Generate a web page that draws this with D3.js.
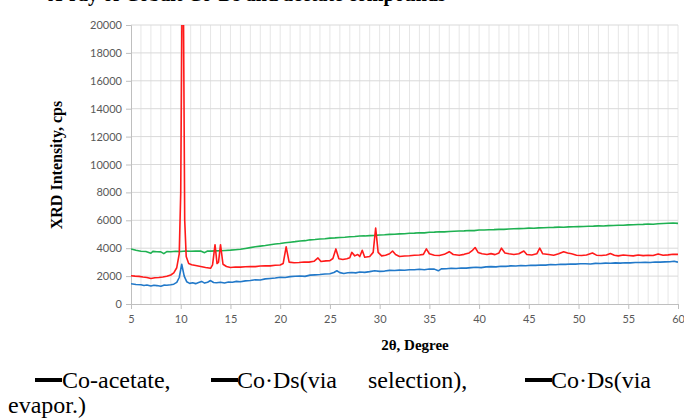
<!DOCTYPE html>
<meta charset="utf-8">
<style>
  body { margin: 0; background: #fff; }
  .tick text { font: 11px Lato, sans-serif; fill: #595959; }
  .title { font: bold 20px "Liberation Serif", serif; }
  .axis-title { font: bold 15px "Liberation Serif", serif; }
  .legend text { font: 24px "Liberation Serif", serif; }
</style>
<svg width="684" height="419"></svg>
<script src="https://d3js.org/d3.v7.min.js"></script>
<script>

  var names = ["Co-acetate,", "Co\u00b7Ds(via selection),", "Co\u00b7Ds(via evapor.)"];
  var colors = ["#2279c9", "#ff1a1a", "#1fb152"];
  var xTicks = [5, 10, 15, 20, 25, 30, 35, 40, 45, 50, 55, 60];
  var yTicks = [0, 2000, 4000, 6000, 8000, 10000, 12000, 14000, 16000, 18000, 20000];

  // Co-acetate (blue)
  var acetate = [
    [5,1450],[5.5,1400],[6,1380],[6.3,1330],[6.6,1360],[7,1290],[7.3,1340],[7.6,1320],[8,1270],[8.3,1350],
    [8.6,1340],[9,1380],[9.3,1420],[9.6,1550],[9.85,1900],[10.1,2850],[10.35,2000],[10.6,1600],[10.9,1480],
    [11.2,1520],[11.5,1460],[11.8,1540],[12.1,1620],[12.4,1500],[12.7,1560],[13,1680],[13.3,1540],[13.6,1520],
    [14,1560],[14.4,1510],[14.8,1580],[15.2,1560],[15.6,1620],[16,1600],[16.5,1660],[17,1680],[17.5,1740],
    [18,1720],[18.5,1800],[19,1830],[19.5,1860],[20,1920],[20.5,1900],[21,1960],[21.5,1990],[22,2010],
    [22.5,1980],[23,2070],[23.5,2090],[24,2110],[24.5,2150],[25,2170],[25.4,2260],[25.7,2380],[26,2250],
    [26.4,2190],[26.8,2240],[27.2,2260],[27.6,2230],[28,2290],[28.5,2270],[29,2320],[29.5,2380],[30,2340],
    [30.5,2360],[31,2410],[31.5,2400],[32,2430],[32.5,2420],[33,2460],[33.5,2450],[34,2490],[34.5,2460],
    [35,2510],[35.5,2500],[35.9,2380],[36.2,2520],[36.7,2530],[37.2,2560],[37.7,2540],[38.2,2580],[38.7,2570],
    [39.2,2610],[39.7,2630],[40.2,2610],[40.7,2660],[41.2,2680],[41.7,2660],[42.2,2710],[42.7,2700],
    [43.2,2730],[43.7,2720],[44.2,2760],[44.7,2740],[45.2,2780],[45.7,2770],[46.2,2800],[46.7,2790],
    [47.2,2830],[47.7,2810],[48.2,2850],[48.7,2840],[49.2,2870],[49.7,2860],[50.2,2880],[50.7,2890],
    [51.2,2870],[51.7,2910],[52.2,2900],[52.7,2930],[53.2,2920],[53.7,2950],[54.2,2930],[54.7,2960],
    [55.2,2950],[55.7,2980],[56.2,2970],[56.7,2990],[57.2,2980],[57.7,3010],[58.2,3000],[58.7,3020],
    [59.2,3030],[59.6,3070],[60,3000]
  ];

  // Co·Ds via selection (red)
  var selection = [
    [5,2030],[5.4,2000],[5.8,1980],[6.2,1930],[6.6,1900],[7,1830],[7.4,1880],[7.8,1900],[8.2,1940],
    [8.6,1990],[9,2080],[9.3,2230],[9.6,2600],[9.85,3600],[10,8000],[10.12,20500],[10.28,20500],[10.4,6000],
    [10.55,3400],[10.8,2900],[11.1,2820],[11.5,2760],[12,2690],[12.5,2620],[13,2560],[13.2,2800],
    [13.45,4250],[13.65,2900],[13.8,3000],[14,4250],[14.25,2850],[14.6,2690],[15,2620],[15.5,2650],
    [16,2640],[16.5,2670],[17,2690],[17.5,2680],[18,2720],[18.5,2740],[19,2730],[19.5,2780],[20,2800],
    [20.3,2900],[20.6,4100],[20.9,3000],[21.4,2960],[21.9,2980],[22.4,3010],[22.9,3000],[23.4,3060],
    [23.8,3300],[24.1,3050],[24.6,3090],[25,3110],[25.3,3260],[25.6,3950],[25.9,3250],[26.3,3190],
    [26.7,3250],[27,3320],[27.2,3700],[27.5,3450],[27.8,3550],[28,3400],[28.25,3850],[28.5,3350],[29,3400],
    [29.35,3700],[29.6,5450],[29.85,3700],[30.2,3450],[30.6,3500],[31,3600],[31.3,3800],[31.6,3550],
    [32,3410],[32.5,3440],[33,3460],[33.5,3490],[34,3510],[34.4,3560],[34.7,3950],[35,3600],[35.5,3500],
    [36,3480],[36.5,3560],[37,3750],[37.4,3550],[38,3500],[38.5,3560],[39,3660],[39.3,3820],[39.6,4050],
    [39.9,3700],[40.3,3600],[40.8,3550],[41.2,3610],[41.6,3540],[42,3660],[42.25,4000],[42.6,3650],
    [43,3600],[43.5,3550],[44,3600],[44.5,3800],[44.8,3550],[45.3,3510],[45.8,3600],[46.1,4000],[46.4,3600],
    [47,3550],[47.5,3500],[48,3600],[48.5,3750],[48.9,3650],[49.3,3600],[49.8,3500],[50.3,3480],[50.8,3510],
    [51.4,3660],[51.8,3500],[52.3,3480],[52.8,3510],[53.2,3620],[53.6,3500],[54,3450],[54.5,3510],
    [55,3480],[55.5,3450],[56,3510],[56.5,3470],[57,3500],[57.5,3480],[58,3590],[58.5,3500],[59,3520],
    [59.5,3570],[60,3560]
  ];

  // Co·Ds via evaporation (green)
  var evapor = [
    [5,3950],[5.5,3850],[6,3780],[6.5,3760],[7,3640],[7.2,3770],[7.6,3750],[8,3740],[8.3,3610],[8.6,3760],
    [9,3750],[9.5,3780],[10,3760],[10.5,3800],[11,3780],[11.5,3790],[12,3800],[12.4,3680],[12.7,3800],
    [13,3790],[13.5,3810],[14,3820],[14.5,3840],[15,3860],[15.5,3890],[16,3920],[16.5,3980],[17,4040],
    [17.5,4100],[18,4150],[18.5,4190],[19,4250],[19.5,4300],[20,4340],[20.5,4390],[21,4430],[21.5,4470],
    [22,4520],[22.5,4540],[23,4600],[23.5,4620],[24,4660],[24.5,4680],[25,4720],[25.5,4740],[26,4770],
    [26.5,4790],[27,4820],[27.5,4840],[28,4870],[28.5,4880],[29,4900],[29.5,4920],[30,4950],[30.5,4960],
    [31,4990],[31.5,5000],[32,5030],[32.5,5040],[33,5070],[33.5,5080],[34,5110],[34.5,5100],[35,5140],
    [35.5,5150],[36,5180],[36.5,5170],[37,5200],[37.5,5220],[38,5230],[38.5,5240],[39,5270],[39.5,5260],
    [40,5300],[40.5,5310],[41,5320],[41.5,5330],[42,5350],[42.5,5350],[43,5380],[43.5,5390],[44,5400],
    [44.5,5410],[45,5440],[45.5,5430],[46,5460],[46.5,5470],[47,5480],[47.5,5490],[48,5510],[48.5,5500],
    [49,5530],[49.5,5540],[50,5550],[50.5,5560],[51,5570],[51.5,5580],[52,5600],[52.5,5590],[53,5620],
    [53.5,5630],[54,5650],[54.5,5640],[55,5670],[55.5,5680],[56,5700],[56.5,5710],[57,5730],[57.5,5720],
    [58,5750],[58.5,5770],[59,5790],[59.5,5810],[60,5780]
  ];

  var series = [acetate, selection, evapor];
  var drawOrder = [2, 1, 0];

  var svg = d3.select("svg");
  var x = d3.scaleLinear().domain([5, 60]).range([131, 678]);
  var y = d3.scaleLinear().domain([0, 20000]).range([304, 25]);

  // title, cut off at the top edge like the source
  svg.append("text").attr("class", "title")
    .attr("x", 48).attr("y", 1)
    .text("X-ray of Cobalt Co\u00b7Ds and acetate compounds");

  // grid
  svg.append("g").selectAll("line")
    .data(d3.range(6, 61))
    .enter().append("line")
      .attr("x1", d => x(d)).attr("x2", d => x(d))
      .attr("y1", y(20000)).attr("y2", y(0))
      .attr("stroke", "#e6e6e6").attr("stroke-width", 1);
  svg.append("g").selectAll("line")
    .data(yTicks.slice(1))
    .enter().append("line")
      .attr("x1", x(5)).attr("x2", x(60))
      .attr("y1", d => y(d)).attr("y2", d => y(d))
      .attr("stroke", "#d9d9d9").attr("stroke-width", 1);

  // axes
  var xAxis = svg.append("g")
    .attr("transform", "translate(0," + y(0) + ")")
    .call(d3.axisBottom(x).tickValues(xTicks).tickSize(5).tickPadding(6));
  var yAxis = svg.append("g")
    .attr("transform", "translate(" + x(5) + ",0)")
    .call(d3.axisLeft(y).tickValues(yTicks).tickFormat(d3.format("d")).tickSize(5).tickPadding(4));
  [xAxis, yAxis].forEach(function(a) {
    a.select(".domain").attr("stroke", "#bfbfbf");
    a.selectAll(".tick line").attr("stroke", "#bfbfbf");
  });

  svg.append("clipPath").attr("id", "plot")
    .append("rect").attr("x", x(5)).attr("y", y(20000))
    .attr("width", x(60) - x(5)).attr("height", y(0) - y(20000));

  var line = d3.line().x(d => x(d[0])).y(d => y(d[1]));

  svg.append("g").attr("clip-path", "url(#plot)")
    .selectAll("path")
    .data(drawOrder)
    .enter().append("path")
      .attr("d", i => line(series[i]))
      .attr("fill", "none")
      .attr("stroke", i => colors[i])
      .attr("stroke-width", 1.6)
      .attr("stroke-linejoin", "round");

  // axis titles
  svg.append("text").attr("class", "axis-title")
    .attr("text-anchor", "middle")
    .style("font-size", "16px")
    .attr("transform", "translate(62,165) rotate(-90)")
    .text("XRD Intensity, cps");
  svg.append("text").attr("class", "axis-title")
    .attr("text-anchor", "middle")
    .attr("x", 415).attr("y", 350)
    .text("2\u03b8, Degree");

  // legend: justified caption text with black line keys
  var legendWords = [
    {key: true, x: 35, y: 380},
    {text: "Co-acetate,", x: 62, y: 388},
    {key: true, x: 211, y: 380},
    {text: "Co\u00b7Ds(via", x: 237, y: 388},
    {text: "selection),", x: 368, y: 388},
    {key: true, x: 525, y: 380},
    {text: "Co\u00b7Ds(via", x: 551, y: 388},
    {text: "evapor.)", x: 8, y: 413}
  ];
  var legend = svg.append("g").attr("class", "legend");
  legend.selectAll("rect")
    .data(legendWords.filter(d => d.key))
    .enter().append("rect")
      .attr("x", d => d.x).attr("y", d => d.y - 2)
      .attr("width", 27).attr("height", 4)
      .attr("fill", "#000");
  legend.selectAll("text")
    .data(legendWords.filter(d => !d.key))
    .enter().append("text")
      .attr("x", d => d.x).attr("y", d => d.y)
      .text(d => d.text);

</script>
